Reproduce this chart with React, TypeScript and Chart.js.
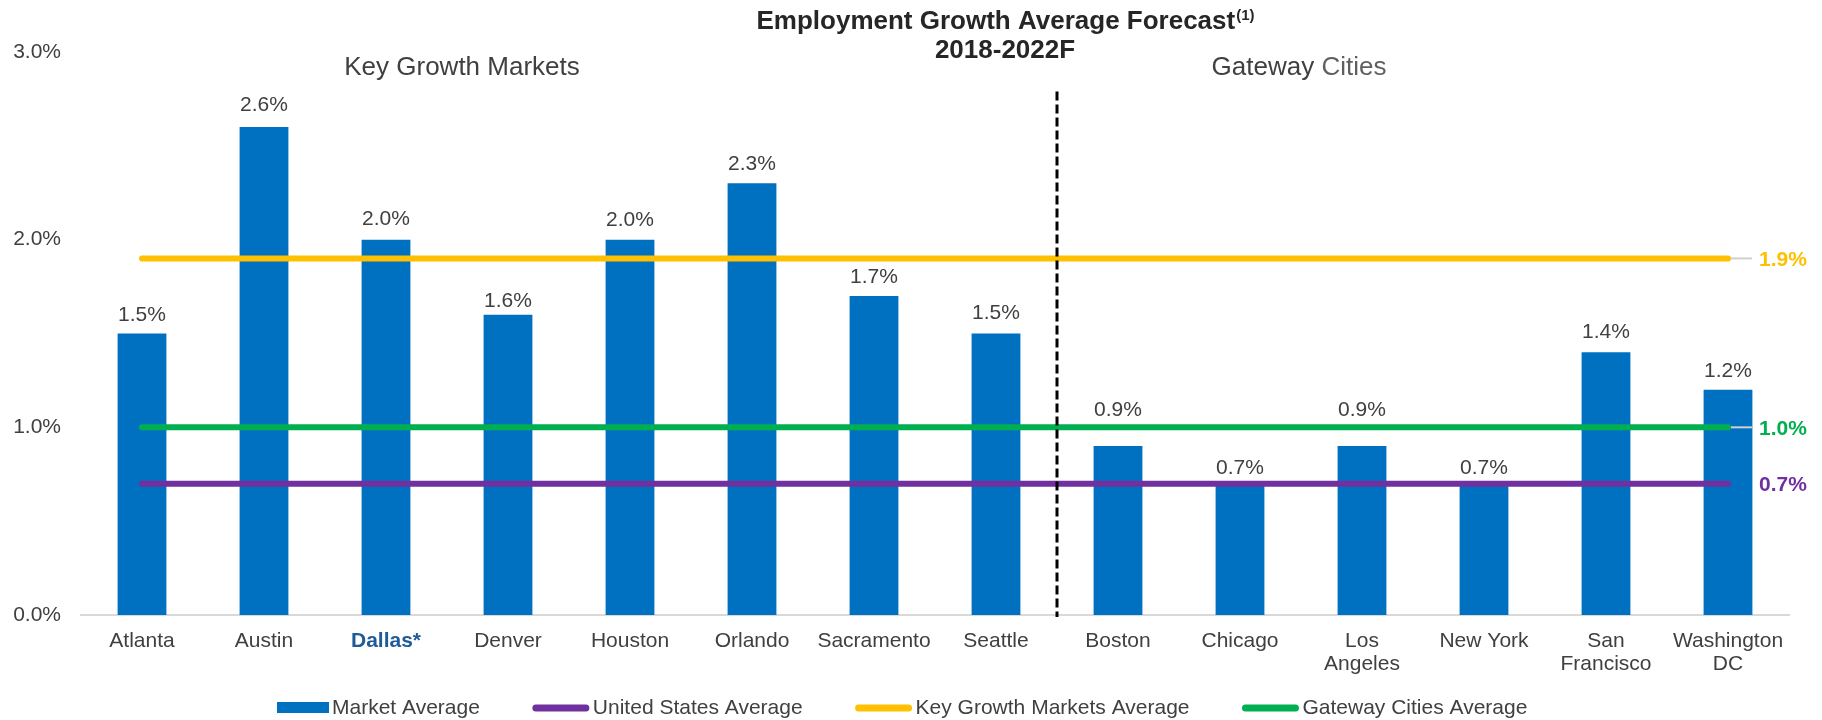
import React, { useEffect, useRef } from 'react';
import { Chart, registerables } from 'chart.js';

Chart.register(...registerables);

const FONT = '"Liberation Sans", Arial, Helvetica, sans-serif';

// ---- data ----
const categories: (string | string[])[] = [
  'Atlanta', 'Austin', 'Dallas*', 'Denver', 'Houston', 'Orlando', 'Sacramento', 'Seattle',
  'Boston', 'Chicago', ['Los', 'Angeles'], 'New York', ['San', 'Francisco'], ['Washington', 'DC'],
];
const marketAverage = [1.5, 2.6, 2.0, 1.6, 2.0, 2.3, 1.7, 1.5, 0.9, 0.7, 0.9, 0.7, 1.4, 1.2];
const unitedStatesAverage = [0.7, 0.7, 0.7, 0.7, 0.7, 0.7, 0.7, 0.7, 0.7, 0.7, 0.7, 0.7, 0.7, 0.7];
const keyGrowthMarketsAverage = [1.9, 1.9, 1.9, 1.9, 1.9, 1.9, 1.9, 1.9, 1.9, 1.9, 1.9, 1.9, 1.9, 1.9];
const gatewayCitiesAverage = [1.0, 1.0, 1.0, 1.0, 1.0, 1.0, 1.0, 1.0, 1.0, 1.0, 1.0, 1.0, 1.0, 1.0];
const yTickValues = [0, 1, 2, 3];
const seriesNames = ['Market Average', 'United States Average', 'Key Growth Markets Average', 'Gateway Cities Average'];
const groupLabels = ['Key Growth Markets', 'Gateway Cities'];
const titleLines = ['Employment Growth Average Forecast', '2018-2022F'];
const titleSup = '(1)';
const highlightIndex = 2;
const groupSplitAfter = 7;

// ---- styles ----
const BAR_COLOR = '#0070C0';
const LINE_COLORS = ['#7030A0', '#FFC000', '#00B050'];
const LEADER = [false, true, true];
const TEXT = '#404040';
// pixel gap between bar top and value-label baseline (manual placement as in the source)
const LABEL_LIFT = [13, 16, 15, 8, 14, 13, 13, 15, 30, 10, 30, 10, 14, 13];

const overlay = {
  id: 'overlay',
  afterDatasetsDraw(chart: any) {
    const { ctx, chartArea, scales } = chart;
    const yS = scales.y;
    const barMeta = chart.getDatasetMeta(0);
    ctx.save();
    // bar value labels
    ctx.font = `21px ${FONT}`;
    ctx.fillStyle = TEXT;
    ctx.textAlign = 'center';
    ctx.textBaseline = 'alphabetic';
    barMeta.data.forEach((el: any, i: number) => {
      ctx.fillText(marketAverage[i].toFixed(1) + '%', el.x, el.y - LABEL_LIFT[i]);
    });
    // divider
    const xd = (barMeta.data[groupSplitAfter].x + barMeta.data[groupSplitAfter + 1].x) / 2;
    ctx.strokeStyle = '#000';
    ctx.lineWidth = 3;
    ctx.setLineDash([9, 4]);
    ctx.beginPath();
    ctx.moveTo(xd, yS.getPixelForValue(2.79));
    ctx.lineTo(xd, chartArea.bottom + 2);
    ctx.stroke();
    ctx.setLineDash([]);
    // right-hand average labels
    const avgSeries = [unitedStatesAverage, keyGrowthMarketsAverage, gatewayCitiesAverage];
    avgSeries.forEach((s, k) => {
      const meta = chart.getDatasetMeta(k + 1);
      const last = meta.data[meta.data.length - 1];
      const yy = yS.getPixelForValue(s[s.length - 1]);
      if (LEADER[k]) {
        ctx.strokeStyle = '#D0D0D0';
        ctx.lineWidth = 2;
        ctx.beginPath();
        ctx.moveTo(last.x + 3, yy);
        ctx.lineTo(last.x + 24, yy);
        ctx.stroke();
      }
      ctx.font = `bold 21px ${FONT}`;
      ctx.fillStyle = LINE_COLORS[k];
      ctx.textAlign = 'left';
      ctx.textBaseline = 'alphabetic';
      ctx.fillText(s[s.length - 1].toFixed(1) + '%', last.x + 31, yy + 7.5);
    });
    ctx.restore();
  },
  afterDraw(chart: any) {
    const { ctx } = chart;
    ctx.save();
    // title
    ctx.fillStyle = '#262626';
    ctx.textBaseline = 'alphabetic';
    ctx.textAlign = 'left';
    ctx.font = `bold 26px ${FONT}`;
    const w1 = ctx.measureText(titleLines[0]).width;
    ctx.font = `bold 15px ${FONT}`;
    const ws = ctx.measureText(titleSup).width;
    const cx = 1005;
    const sx = cx - (w1 + ws) / 2;
    ctx.font = `bold 26px ${FONT}`;
    ctx.fillText(titleLines[0], sx, 29);
    ctx.font = `bold 15px ${FONT}`;
    ctx.fillText(titleSup, sx + w1 + 1, 20);
    ctx.font = `bold 26px ${FONT}`;
    ctx.textAlign = 'center';
    ctx.fillText(titleLines[1], cx, 58);
    // group labels
    ctx.font = `26px ${FONT}`;
    ctx.fillStyle = TEXT;
    ctx.textAlign = 'center';
    ctx.fillText(groupLabels[0], 462, 75);
    const parts = groupLabels[1].split(' ');
    const wA = ctx.measureText(parts[0] + ' ').width;
    const wB = ctx.measureText(parts[1]).width;
    const gx = 1299 - (wA + wB) / 2;
    ctx.textAlign = 'left';
    ctx.fillText(parts[0] + ' ', gx, 75);
    ctx.fillStyle = '#5f5f5f';
    ctx.fillText(parts[1], gx + wA, 75);
    // legend
    ctx.font = `21px ${FONT}`;
    ctx.textBaseline = 'middle';
    let lx = 277;
    const ly = 707;
    const colors = [BAR_COLOR, ...LINE_COLORS];
    seriesNames.forEach((name, i) => {
      if (i === 0) {
        ctx.fillStyle = colors[i];
        ctx.fillRect(lx, ly - 5, 52, 11);
        lx += 52;
      } else {
        ctx.strokeStyle = colors[i];
        ctx.lineWidth = 7;
        ctx.lineCap = 'round';
        ctx.beginPath();
        ctx.moveTo(lx + 3, ly + 1);
        ctx.lineTo(lx + 53, ly + 1);
        ctx.stroke();
        lx += 57;
      }
      lx += 3;
      ctx.fillStyle = TEXT;
      ctx.fillText(name, lx, ly + 1);
      lx += ctx.measureText(name).width + 53;
    });
    ctx.restore();
  },
};

export default function App() {
  const ref = useRef<HTMLCanvasElement | null>(null);
  useEffect(() => {
    if (!ref.current) return;
    Chart.defaults.font.family = FONT;
    const lineDs = (label: string, data: number[], color: string) => ({
      type: 'line' as const,
      label,
      data,
      borderColor: color,
      backgroundColor: color,
      borderWidth: 6,
      borderCapStyle: 'round' as const,
      pointRadius: 0,
      pointHoverRadius: 0,
      fill: false,
      tension: 0,
      order: 0,
    });
    const chart = new Chart(ref.current, {
      type: 'bar',
      data: {
        labels: categories as any,
        datasets: [
          {
            type: 'bar',
            label: seriesNames[0],
            data: marketAverage,
            backgroundColor: BAR_COLOR,
            borderWidth: 0,
            barPercentage: 0.4,
            categoryPercentage: 1.0,
            order: 1,
          },
          lineDs(seriesNames[1], unitedStatesAverage, LINE_COLORS[0]),
          lineDs(seriesNames[2], keyGrowthMarketsAverage, LINE_COLORS[1]),
          lineDs(seriesNames[3], gatewayCitiesAverage, LINE_COLORS[2]),
        ] as any,
      },
      options: {
        animation: false,
        responsive: false,
        devicePixelRatio: 1,
        layout: { padding: { left: 0, right: 33, top: 52, bottom: 45 } },
        plugins: {
          legend: { display: false },
          title: { display: false },
          tooltip: { enabled: false },
        },
        scales: {
          x: {
            grid: { display: false, drawTicks: false },
            border: { display: true, color: '#D9D9D9', width: 2 },
            ticks: {
              padding: 15,
              maxRotation: 0,
              autoSkip: false,
              color: (c: any) => (c.index === highlightIndex ? '#1F5A99' : TEXT),
              font: (c: any) => ({
                family: FONT,
                size: 21,
                weight: c.index === highlightIndex ? 'bold' : 'normal',
                lineHeight: 1.1,
              }),
            },
            afterFit: (s: any) => { s.height = 60; },
          },
          y: {
            min: 0,
            max: 3,
            grid: { display: false, drawTicks: false },
            border: { display: false },
            afterBuildTicks: (s: any) => { s.ticks = yTickValues.map((v) => ({ value: v })); },
            ticks: {
              padding: 20,
              color: TEXT,
              font: { family: FONT, size: 21 },
              callback: (v: any) => Number(v).toFixed(1) + '%',
            },
            afterFit: (s: any) => { s.width = 81; },
          },
        },
      },
      plugins: [overlay],
    });
    return () => chart.destroy();
  }, []);
  return (
    <div style={{ position: 'absolute', left: 0, top: 0, width: 1822, height: 720, background: '#fff' }}>
      <canvas ref={ref} width={1822} height={720} style={{ width: 1822, height: 720, display: 'block' }} />
    </div>
  );
}
